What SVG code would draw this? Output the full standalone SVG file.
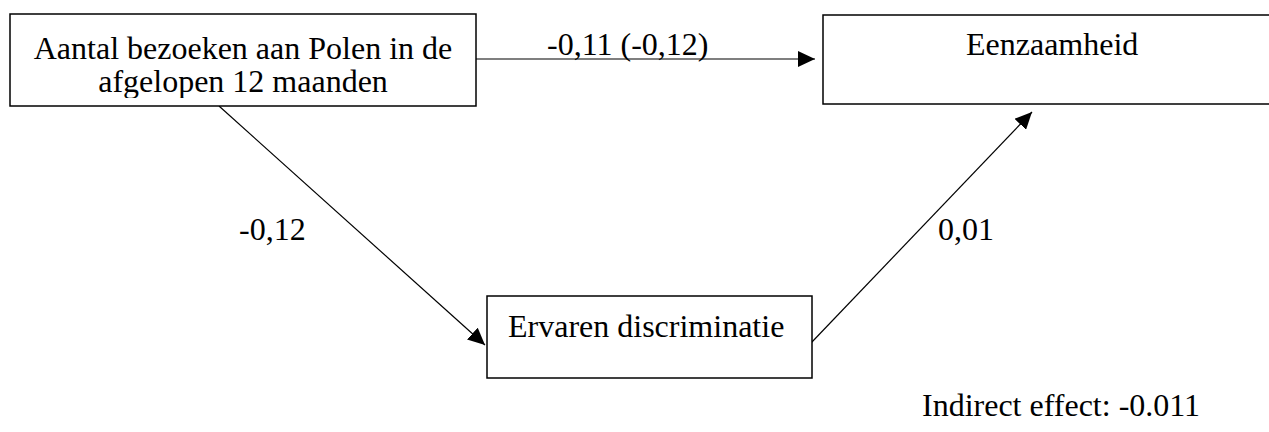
<svg xmlns="http://www.w3.org/2000/svg" width="1269" height="432" viewBox="0 0 1269 432">
<defs>
<style>
.box{fill:#fff;stroke:#000;stroke-width:1.5}
.t{font-family:"Liberation Serif","Times New Roman",serif;font-size:32px;fill:#000}
.c{stroke:#000;stroke-width:1.2;fill:none}
</style>
<marker id="ah" markerUnits="userSpaceOnUse" markerWidth="18" markerHeight="16" viewBox="0 0 18 16" refX="17" refY="8" orient="auto">
<path d="M0,0 L17,8 L0,16 Z" fill="#000"/>
</marker>
<clipPath id="cp1"><rect x="10" y="14" width="466" height="84"/></clipPath>
</defs>
<rect width="1269" height="432" fill="#fff"/>
<g id="connectors">
<line class="c" x1="476" y1="59" x2="815" y2="59" marker-end="url(#ah)"/>
<line class="c" x1="219" y1="106" x2="485" y2="345" marker-end="url(#ah)"/>
<line class="c" x1="811" y1="343" x2="1032" y2="112" marker-end="url(#ah)"/>
<text class="t" x="547" y="55">-0,11 (-0,12)</text>
<text class="t" x="239" y="240">-0,12</text>
<text class="t" x="938" y="240">0,01</text>
</g>
<g id="node-bezoeken">
<rect class="box" x="10" y="14" width="466" height="92"/>
<g clip-path="url(#cp1)">
<text class="t" x="243" y="59" text-anchor="middle">Aantal bezoeken aan Polen in de</text>
<text class="t" x="243" y="92" text-anchor="middle">afgelopen 12 maanden</text>
</g>
</g>
<g id="node-eenzaamheid">
<rect class="box" x="823" y="15" width="460" height="89"/>
<text class="t" x="966" y="55">Eenzaamheid</text>
</g>
<g id="node-discriminatie">
<rect class="box" x="487" y="296" width="325" height="82"/>
<text class="t" x="508" y="337">Ervaren discriminatie</text>
</g>
<g id="note">
<text class="t" x="922" y="416">Indirect effect: -0.011</text>
</g>
</svg>
